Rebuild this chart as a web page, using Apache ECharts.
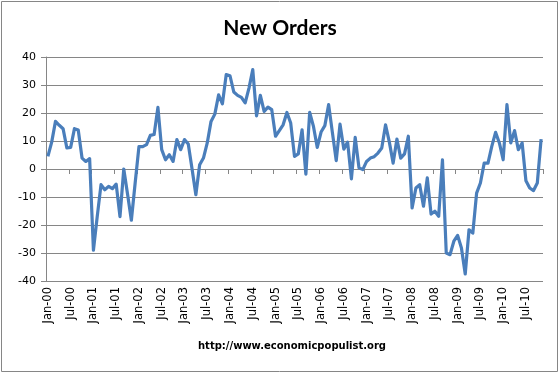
<!DOCTYPE html>
<html>
<head>
<meta charset="utf-8">
<script src="https://cdn.jsdelivr.net/npm/echarts@6/dist/echarts.min.js"></script>
<style>html,body{margin:0;padding:0;background:#fff}#c{width:560px;height:374px}</style>
</head>
<body>
<div id="c"></div>
<script>
var monthNames = ['Jan','Feb','Mar','Apr','May','Jun','Jul','Aug','Sep','Oct','Nov','Dec'];
var startYear = 2000;
var monthCount = 131; // Jan-00 .. Nov-10
var categories = [];
for (var k = 0; k < monthCount; k++) {
  var yy = startYear + Math.floor(k / 12);
  categories.push(monthNames[k % 12] + '-' + String(yy % 100).padStart(2, '0'));
}
var newOrders = [
  4.5, 9.6, 17, 15.6, 14.4, 7.5, 7.7, 14.4, 13.9, 3.9, 2.7, 3.7,
  -29, -17, -5.6, -7.4, -6.2, -7, -5.4, -17, 0, -9, -18.3, -5,
  8, 8, 8.7, 12, 12.3, 22, 6.9, 3.3, 5.1, 2.7, 10.5, 6.9,
  10.5, 8.9, 0, -9.2, 1.5, 3.9, 9.3, 17, 19.6, 26.5, 23.3, 33.7,
  33.3, 27.5, 26.3, 25.6, 23.6, 28.9, 35.5, 19, 26.3, 20.6, 22.1, 21.2,
  11.7, 13.7, 15.8, 20.2, 16.4, 4.5, 5.4, 14, -1.8, 20.2, 15.2, 7.7,
  13.2, 15.5, 23, 12.9, 3, 16, 7.1, 9.6, -3.5, 11.3, 0.4, -0.2,
  2.7, 3.9, 4.4, 5.7, 7.5, 15.8, 9.6, 2.1, 10.7, 3.9, 5.4, 11.7,
  -13.9, -6.8, -5.6, -13.3, -3.2, -16.1, -15.1, -16.9, 3.3, -30, -30.6, -25.8,
  -23.7, -28.2, -37.5, -21.7, -22.9, -8.6, -5, 2.1, 2.1, 8.1, 13.1, 9.3,
  3.3, 23, 9.3, 13.7, 6.9, 9.3, -4.2, -6.8, -7.7, -5, 10.7
];
var yTicks = [-40, -30, -20, -10, 0, 10, 20, 30, 40];
var titleText = 'New Orders';
var sourceText = 'http://www.economicpopulist.org';

var chart = echarts.init(document.getElementById('c'), null, {renderer: 'canvas'});
var gridCol = '#868686';
chart.setOption({
  animation: false,
  backgroundColor: '#fff',
  title: {
    text: titleText,
    left: 'center',
    top: 13,
    textStyle: {fontFamily: 'Lato', fontWeight: 'bold', fontSize: 21, color: '#000'}
  },
  graphic: [
    {type: 'rect', shape: {x: 1.5, y: 1.5, width: 556, height: 370},
     style: {fill: 'none', stroke: '#868686', lineWidth: 1}, z: -1},
    {type: 'text', left: 198, top: 341,
     style: {text: sourceText, fontFamily: 'DejaVu Sans', fontWeight: 'bold', fontSize: 10, fill: '#000'}}
  ],
  grid: {left: 46, right: 17, top: 57, bottom: 93},
  xAxis: {
    type: 'category',
    data: categories,
    boundaryGap: true,
    axisLine: {lineStyle: {color: gridCol, width: 1}},
    axisTick: {show: true, interval: 5, length: 5, lineStyle: {color: gridCol}},
    axisLabel: {interval: 5, rotate: 90, fontFamily: 'DejaVu Sans', fontSize: 11.5, color: '#000', margin: 6},
    splitLine: {show: false}
  },
  yAxis: {
    type: 'value',
    min: yTicks[0],
    max: yTicks[yTicks.length - 1],
    interval: 10,
    axisLine: {show: true, lineStyle: {color: gridCol, width: 1}},
    axisTick: {show: true, length: 5, lineStyle: {color: gridCol}},
    axisLabel: {fontFamily: 'DejaVu Sans', fontSize: 11, color: '#000', margin: 10},
    splitLine: {lineStyle: {color: gridCol, width: 1}}
  },
  series: [{
    type: 'line',
    data: newOrders,
    symbol: 'none',
    smooth: false,
    lineStyle: {color: '#4A7EBB', width: 3.2, join: 'round'}
  }]
});
</script>
</body>
</html>
